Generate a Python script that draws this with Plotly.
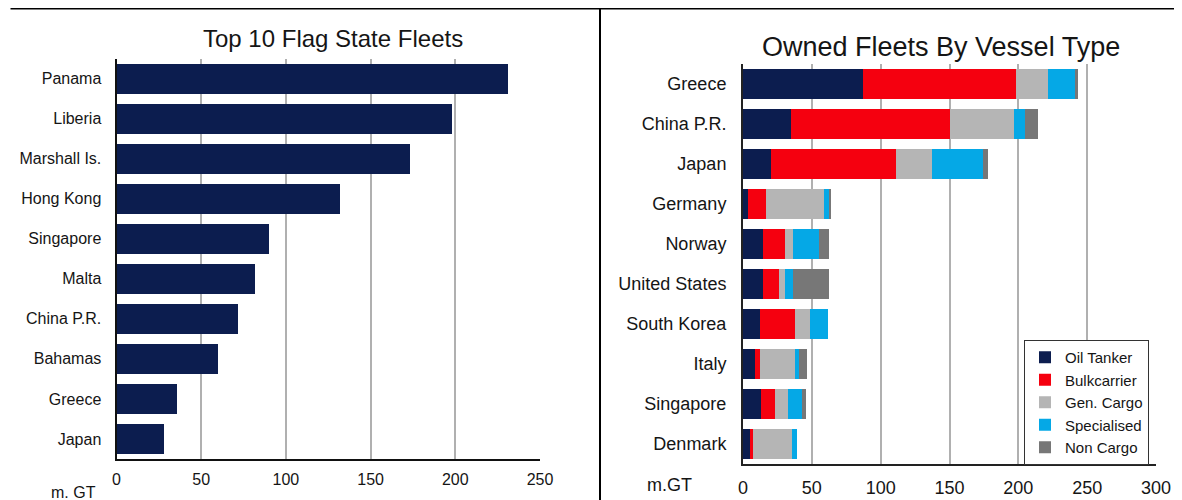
import plotly.graph_objects as go

# ---- Data: left chart ----
flag_states = ["Panama", "Liberia", "Marshall Is.", "Hong Kong", "Singapore",
               "Malta", "China P.R.", "Bahamas", "Greece", "Japan"]
flag_gt = [231, 198, 173, 132, 90, 82, 72, 60, 36, 28]

# ---- Data: right chart ----
owners = ["Greece", "China P.R.", "Japan", "Germany", "Norway", "United States",
          "South Korea", "Italy", "Singapore", "Denmark"]
oil_tanker = [87, 35, 20, 3.5, 14.5, 14.5, 12, 9, 13, 5.3]
bulkcarrier = [111, 115, 91, 13, 16, 12, 26, 3, 10, 2]
gen_cargo = [23.5, 47, 26, 42, 6, 4, 10.5, 26, 10, 28.5]
specialised = [19.5, 8, 37, 4, 19, 5.5, 13, 2.5, 10, 3.5]
non_cargo = [2, 9, 4, 1, 7, 26.5, 0, 6, 3, 0]

series_names = ["Oil Tanker", "Bulkcarrier", "Gen. Cargo", "Specialised", "Non Cargo"]
series_vals = [oil_tanker, bulkcarrier, gen_cargo, specialised, non_cargo]
series_colors = ["#0c1d4f", "#f5000f", "#b5b5b5", "#05a8e6", "#777777"]

# The page body has an 8px margin; the figure fills the rest of the window.
PAGE_W, PAGE_H = 1182, 500
OFF = 8
W, H = PAGE_W - OFF, PAGE_H - OFF
FONT = "Liberation Sans, Arial, sans-serif"
TXT = "#151515"

def px_x(v):
    # v is a page pixel x position
    return (v - OFF) / W

def px_y(v):
    return 1 - (v - OFF) / H

fig = go.Figure()

fig.add_trace(go.Bar(
    x=flag_gt, y=flag_states, orientation="h",
    marker=dict(color="#0c1d4f", line=dict(width=0)),
    xaxis="x", yaxis="y", showlegend=False,
))

for name, vals, col in zip(series_names, series_vals, series_colors):
    fig.add_trace(go.Bar(
        x=vals, y=owners, orientation="h", name=name,
        marker=dict(color=col, line=dict(width=0)),
        xaxis="x2", yaxis="y2",
    ))

grid = "#b0b0b0"
fig.update_layout(
    width=W, height=H,
    margin=dict(l=0, r=0, t=0, b=0, autoexpand=False),
    paper_bgcolor="white", plot_bgcolor="white",
    barmode="stack", bargap=0.25,
    font=dict(family=FONT, color=TXT),
    xaxis=dict(
        domain=[px_x(116.5), px_x(540)], range=[0, 250],
        tickvals=[0, 50, 100, 150, 200, 250],
        showgrid=True, gridcolor=grid, gridwidth=1.5,
        showline=True, linecolor="#111", linewidth=2,
        zeroline=False, ticks="", ticklabelstandoff=5, automargin=False,
        tickfont=dict(size=16, color=TXT), anchor="y", fixedrange=True,
    ),
    yaxis=dict(
        domain=[px_y(459), px_y(58.5)], range=[9.5, -0.5],
        type="category", showline=True, linecolor="#111", linewidth=2,
        showgrid=False, ticks="", ticklabelstandoff=10, automargin=False,
        tickfont=dict(size=16, color=TXT), anchor="x",
    ),
    xaxis2=dict(
        domain=[px_x(743), px_x(1156)], range=[0, 300],
        tickvals=[0, 50, 100, 150, 200, 250, 300],
        showgrid=True, gridcolor=grid, gridwidth=1.5,
        showline=True, linecolor="#222", linewidth=2,
        zeroline=False, ticks="", ticklabelstandoff=6, automargin=False,
        tickfont=dict(size=18, color=TXT), anchor="y2",
    ),
    yaxis2=dict(
        domain=[px_y(464), px_y(64)], range=[9.5, -0.5],
        type="category", showline=True, linecolor="#222", linewidth=2,
        showgrid=False, ticks="", ticklabelstandoff=11, automargin=False,
        tickfont=dict(size=18, color=TXT), anchor="x2",
    ),
    legend=dict(
        x=px_x(1024), y=px_y(340), xanchor="left", yanchor="top",
        bgcolor="white", bordercolor="#333", borderwidth=1,
        font=dict(size=15, color=TXT), traceorder="normal",
        itemwidth=30, tracegroupgap=0,
    ),
    annotations=[
        dict(text="Top 10 Flag State Fleets", x=px_x(333), y=px_y(38),
             xref="paper", yref="paper", showarrow=False,
             font=dict(size=24, color=TXT), xanchor="center", yanchor="middle"),
        dict(text="Owned Fleets By Vessel Type", x=px_x(941), y=px_y(47),
             xref="paper", yref="paper", showarrow=False,
             font=dict(size=27, color=TXT), xanchor="center", yanchor="middle"),
        dict(text="m. GT", x=px_x(73), y=px_y(492),
             xref="paper", yref="paper", showarrow=False,
             font=dict(size=16, color=TXT), xanchor="center", yanchor="middle"),
        dict(text="m.GT", x=px_x(669), y=px_y(485),
             xref="paper", yref="paper", showarrow=False,
             font=dict(size=18, color=TXT), xanchor="center", yanchor="middle"),
    ],
    shapes=[
        dict(type="line", xref="paper", yref="paper",
             x0=px_x(10.5), x1=1, y0=px_y(8.5), y1=px_y(8.5),
             line=dict(color="#000", width=2)),
        dict(type="line", xref="paper", yref="paper",
             x0=px_x(600), x1=px_x(600), y0=px_y(8.5), y1=0,
             line=dict(color="#000", width=2)),
    ],
)

fig.write_html("out.html")
